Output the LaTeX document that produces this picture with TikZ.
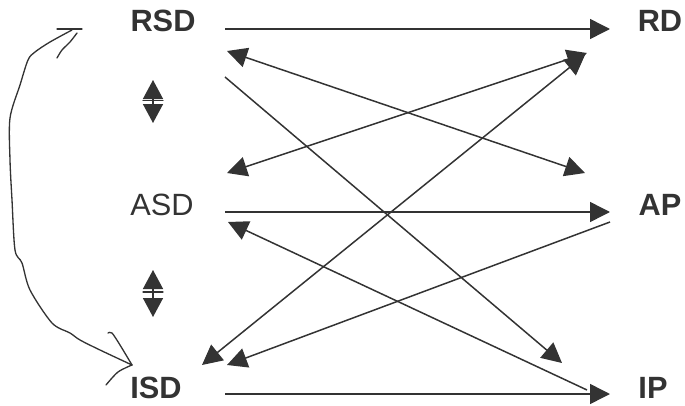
\documentclass[tikz,border=0pt]{standalone}
\usepackage{fontspec}
\setmainfont{Liberation Sans}
\usepackage{tikz}
\usetikzlibrary{positioning,calc,arrows.meta}
\colorlet{ink}{black!80}
\tikzset{lbl/.style={inner sep=0pt, text=ink, font=\fontsize{17.5}{20}\selectfont\bfseries},
         lblr/.style={inner sep=0pt, text=ink, font=\fontsize{17.5}{20}\selectfont},
         edge/.style={-{Triangle[length=0.4cm,width=0.4cm]}, draw=ink, line width=0.85pt},
         dedge/.style={{Triangle[length=0.4cm,width=0.4cm]}-{Triangle[length=0.4cm,width=0.4cm]}, draw=ink, line width=0.85pt},
         updown/.style={{Triangle[length=0.38cm,width=0.4cm]}-{Triangle[length=0.38cm,width=0.4cm]}, draw=ink, line width=0.85pt},
         scribble/.style={draw=ink, line width=0.75pt, line cap=round, line join=round}
}

\begin{document}
\begin{tikzpicture}
       \useasboundingbox (0,0) rectangle (13.7,8.1);
       \node[lbl]  (RSD) at (3.26,7.68) {RSD};
       \node[lblr] (ASD) at (3.24,4.0)  {ASD};
       \node[lbl]  (ISD) at (3.12,0.34) {ISD};
       \node[lbl]  (RD)  at (13.2,7.68) {RD};
       \node[lbl]  (AP)  at (13.2,4.0)  {AP};
       \node[lbl]  (IP)  at (13.06,0.34) {IP};
       % straight across
       \draw[edge] ($(RSD)+(1.24,-0.16)$) -- ($(RD)+(-1.0,-0.16)$);
       \draw[edge] ($(ASD)+(1.26,-0.14)$) -- ($(AP)+(-1.0,-0.14)$);
       \draw[edge] ($(ISD)+(1.38,-0.12)$) -- ($(IP)+(-0.86,-0.12)$);
       % crossing
       \draw[edge]  ($(RSD)+(1.24,-1.12)$) -- ($(IP)+(-1.82,0.5)$);
       \draw[dedge] ($(RSD)+(1.28,-0.6)$)  -- ($(AP)+(-1.5,0.64)$);
       \draw[dedge] ($(ASD)+(1.3,0.64)$)   -- ($(RD)+(-1.46,-0.64)$);
       \draw[dedge] ($(ISD)+(0.92,0.46)$)  -- ($(RD)+(-1.5,-0.68)$);
       \draw[edge]  ($(AP)+(-1.0,-0.34)$)  -- ($(ISD)+(1.42,0.46)$);
       \draw[edge]  ($(IP)+(-1.32,-0.04)$) -- ($(ASD)+(1.32,-0.34)$);
       % small up/down marks
       \coordinate (u1) at (3.06,6.5);  \coordinate (d1) at (3.06,5.64);
       \coordinate (u2) at (3.06,2.7);  \coordinate (d2) at (3.06,1.76);
       \draw[updown] (u1) -- (d1);
       \draw[updown] (u2) -- (d2);
       \draw[scribble] ($(u1)!0.47!(d1)+(-0.2,0)$) -- ++(0.4,0);
       \draw[scribble] ($(u2)!0.47!(d2)+(-0.2,0)$) -- ++(0.4,0);
       % hand drawn loop
       \draw[scribble] plot[smooth, tension=0.5] coordinates {(1.44,7.5) (1.0,7.26) (0.7,7.06) (0.56,6.9) (0.4,6.4) (0.2,5.74) (0.2,4.9) (0.24,4.1) (0.3,3.1) (0.44,2.84) (0.6,2.3) (1.04,1.64) (1.4,1.44) (1.6,1.3) (2.0,1.1) (2.64,0.8)};
       \draw[scribble] (1.14,7.52) -- (1.64,7.52);
       \draw[scribble] plot[smooth] coordinates {(1.14,6.94) (1.24,7.1) (1.4,7.26) (1.54,7.44)};
       \draw[scribble] plot[smooth] coordinates {(2.64,0.8) (2.4,1.2) (2.24,1.44) (2.16,1.44)};
       \draw[scribble] plot[smooth] coordinates {(2.64,0.8) (2.36,0.66) (2.12,0.4)};
\end{tikzpicture}
\end{document}
